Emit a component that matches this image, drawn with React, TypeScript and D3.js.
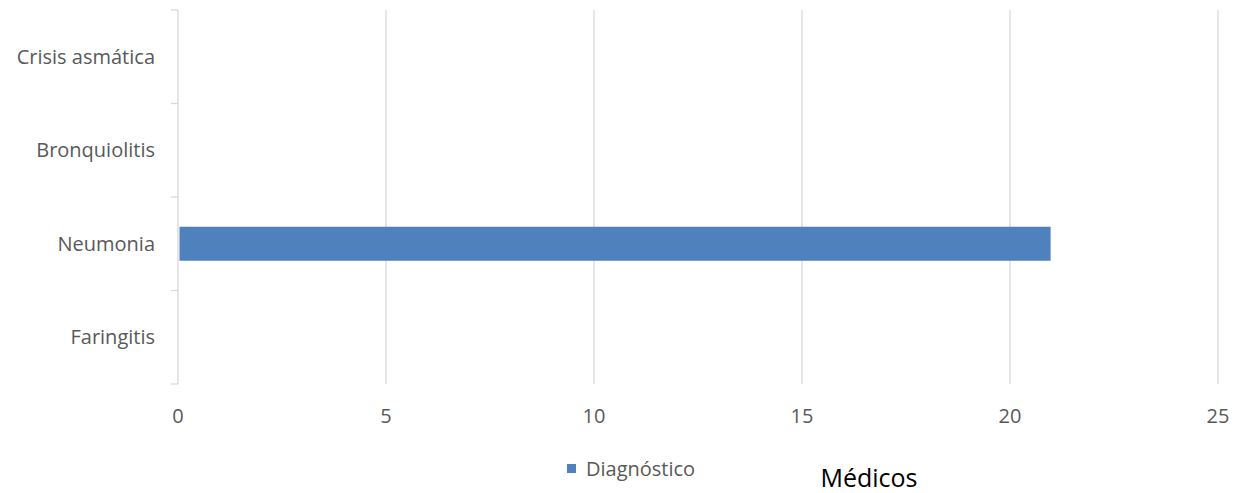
import { useEffect, useRef } from "react";
import * as d3 from "d3";

const categories = ["Crisis asmática", "Bronquiolitis", "Neumonia", "Faringitis"];
const values = [0, 0, 21, 0];
const xTicks = [0, 5, 10, 15, 20, 25];
const seriesName = "Diagnóstico";
const axisTitle = "Médicos";

const WIDTH = 1235;
const HEIGHT = 493;
const FONT = "'Open Sans', 'Liberation Sans', sans-serif";

export default function App() {
  const svgRef = useRef<SVGSVGElement | null>(null);

  useEffect(() => {
    if (!svgRef.current) return;
    const svg = d3.select(svgRef.current);
    svg.selectAll("*").remove();

    const x = d3.scaleLinear().domain([0, 25]).range([178, 1218]);
    const y = d3.scaleBand().domain(categories).range([10, 384]).paddingInner(0).paddingOuter(0);

    // vertical gridlines
    svg
      .append("g")
      .selectAll("line")
      .data(xTicks.filter((t) => t > 0))
      .enter()
      .append("line")
      .attr("x1", (d) => x(d))
      .attr("x2", (d) => x(d))
      .attr("y1", 10)
      .attr("y2", 384)
      .attr("stroke", "#d9d9d9")
      .attr("stroke-width", 1.3);

    // left axis with category ticks
    const axis = svg.append("g");
    axis
      .append("line")
      .attr("x1", x(0))
      .attr("x2", x(0))
      .attr("y1", 10)
      .attr("y2", 384)
      .attr("stroke", "#d9d9d9")
      .attr("stroke-width", 1.3);
    const tickYs = categories.map((c) => y(c)!).concat([384]);
    axis
      .selectAll("line.tick")
      .data(tickYs)
      .enter()
      .append("line")
      .attr("class", "tick")
      .attr("x1", x(0) - 7)
      .attr("x2", x(0))
      .attr("y1", (d) => d)
      .attr("y2", (d) => d)
      .attr("stroke", "#d9d9d9")
      .attr("stroke-width", 1.3);

    // category labels
    svg
      .append("g")
      .selectAll("text")
      .data(categories)
      .enter()
      .append("text")
      .attr("x", 155)
      .attr("y", (d) => y(d)! + y.bandwidth() / 2)
      .attr("dy", "0.35em")
      .attr("text-anchor", "end")
      .attr("fill", "#595959")
      .style("font-family", FONT)
      .style("font-size", "20px")
      .text((d) => d);

    // x tick labels
    svg
      .append("g")
      .selectAll("text")
      .data(xTicks)
      .enter()
      .append("text")
      .attr("x", (d) => x(d))
      .attr("y", 423)
      .attr("text-anchor", "middle")
      .attr("fill", "#595959")
      .style("font-family", FONT)
      .style("font-size", "20px")
      .text((d) => d);

    // bars
    const barH = 34;
    svg
      .append("g")
      .selectAll("rect")
      .data(categories.map((c, i) => ({ c, v: values[i] })).filter((d) => d.v > 0))
      .enter()
      .append("rect")
      .attr("x", x(0) + 1.5)
      .attr("y", (d) => y(d.c)! + y.bandwidth() / 2 - barH / 2)
      .attr("width", (d) => x(d.v) - x(0) - 2.5)
      .attr("height", barH)
      .attr("fill", "#4f81bd");

    // legend
    svg
      .append("rect")
      .attr("x", 567)
      .attr("y", 464)
      .attr("width", 9)
      .attr("height", 9)
      .attr("fill", "#4f81bd");
    svg
      .append("text")
      .attr("x", 586)
      .attr("y", 476)
      .attr("fill", "#595959")
      .style("font-family", FONT)
      .style("font-size", "20px")
      .text(seriesName);

    // axis title
    svg
      .append("text")
      .attr("x", 869)
      .attr("y", 487)
      .attr("text-anchor", "middle")
      .attr("fill", "#000000")
      .style("font-family", FONT)
      .style("font-size", "25px")
      .text(axisTitle);
  }, []);

  return (
    <svg
      ref={svgRef}
      width={WIDTH}
      height={HEIGHT}
      style={{ position: "absolute", left: 0, top: 0, background: "#fff" }}
    />
  );
}
